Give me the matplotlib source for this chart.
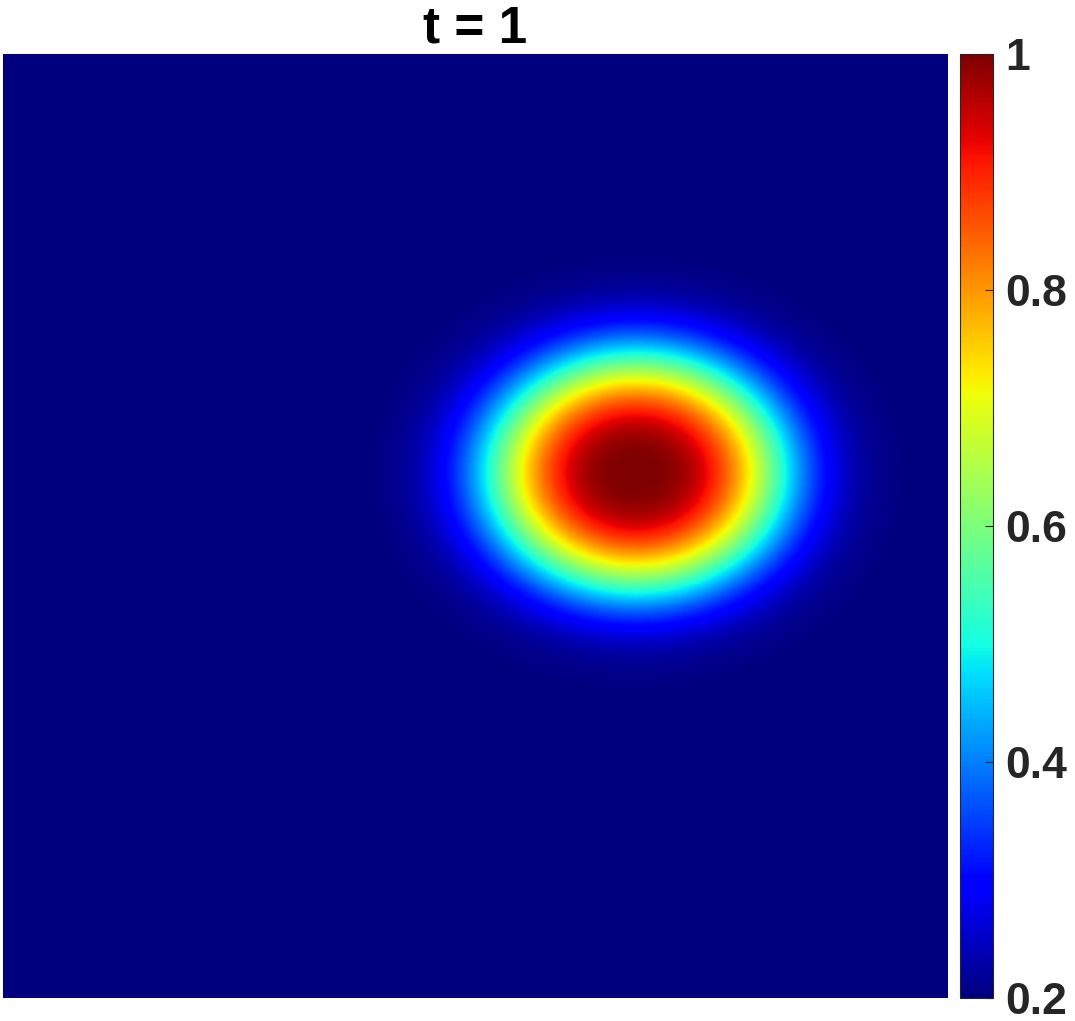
# heat map of a single bump at t = 1

import numpy as np
import matplotlib.pyplot as plt

# values
time_label = "t = 1"
base_value = 0.2
peak_value = 1.0
bump_center = [0.6705, 0.556]   # (x, y) in the unit square
bump_radius = [0.159, 0.128]     # half widths along x and y
bump_power = 3.0
cbar_ticks = [0.2, 0.4, 0.6, 0.8, 1.0]
cbar_labels = ["0.2", "0.4", "0.6", "0.8", "1"]

n = 500
x = np.linspace(0, 1, n)
y = np.linspace(0, 1, n)
X, Y = np.meshgrid(x, y)
r = np.sqrt(((X - bump_center[0]) / bump_radius[0]) ** 2 +
            ((Y - bump_center[1]) / bump_radius[1]) ** 2)
u = base_value + (peak_value - base_value) * np.exp(-r ** bump_power)

plt.rcParams['font.family'] = ['Liberation Sans', 'DejaVu Sans']

fig = plt.figure(figsize=(10.75, 10.21), dpi=100)
ax = fig.add_axes([3 / 1075, 23 / 1021, 944 / 1075, 944 / 1021])
im = ax.imshow(u, cmap='jet', vmin=cbar_ticks[0], vmax=cbar_ticks[-1],
               origin='lower', extent=[0, 1, 0, 1], interpolation='bilinear',
               aspect='auto')
ax.set_xticks([])
ax.set_yticks([])
for s in ax.spines.values():
    s.set_visible(False)
ax.set_title(time_label, fontsize=37, fontweight='bold', pad=8)

cax = fig.add_axes([960 / 1075, 23 / 1021, 33 / 1075, 944 / 1021])
cb = fig.colorbar(im, cax=cax, ticks=cbar_ticks)
cb.ax.set_yticklabels(cbar_labels)
cb.outline.set_edgecolor('#262626')
cb.outline.set_linewidth(0.8)
cax.tick_params(direction='in', length=6, width=0.8, color='#262626',
                labelsize=32, labelcolor='#262626', pad=9)
for lab in cax.get_yticklabels():
    lab.set_fontweight('bold')

fig.savefig('out.png', dpi=100)
